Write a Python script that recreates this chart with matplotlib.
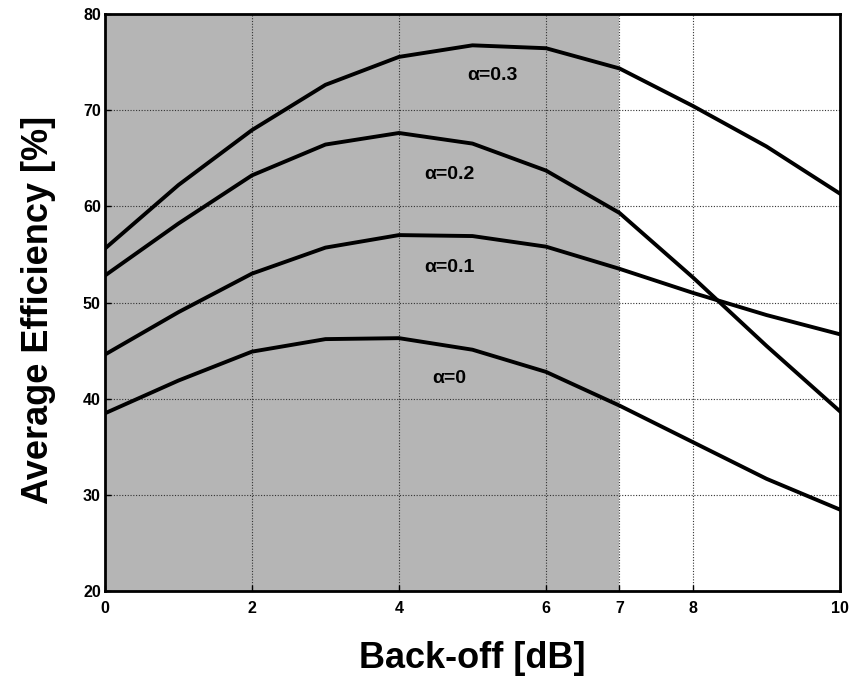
import numpy as np
import matplotlib.pyplot as plt

plt.rcParams['font.family'] = ['Liberation Sans', 'DejaVu Sans']

# back-off in dB
backoff = [0, 1, 2, 3, 4, 5, 6, 7, 8, 9, 10]

# average efficiency [%] for each alpha
eff_a0 = [38.5, 41.9, 44.9, 46.2, 46.3, 45.1, 42.8, 39.3, 35.5, 31.7, 28.5]
eff_a01 = [44.6, 49.0, 53.0, 55.7, 57.0, 56.9, 55.8, 53.5, 51.0, 48.7, 46.7]
eff_a02 = [52.8, 58.2, 63.2, 66.4, 67.6, 66.5, 63.7, 59.3, 52.6, 45.5, 38.7]
eff_a03 = [55.6, 62.2, 67.9, 72.6, 75.5, 76.7, 76.4, 74.3, 70.4, 66.2, 61.3]

labels = ['\u03b1=0', '\u03b1=0.1', '\u03b1=0.2', '\u03b1=0.3']
label_pos = [(4.68, 42.1), (4.68, 53.6), (4.68, 63.3), (5.27, 73.6)]

fig = plt.figure(figsize=(8.52, 6.77), dpi=100)
ax = fig.add_axes([0.1232, 0.1263, 0.8627, 0.8537])

# shaded back-off region
ax.axvspan(0, 7, color='#b5b5b5', zorder=0, lw=0)

for y in [eff_a0, eff_a01, eff_a02, eff_a03]:
    ax.plot(backoff, y, color='black', lw=2.8, zorder=3, solid_joinstyle='round')

for txt, (x, y) in zip(labels, label_pos):
    ax.text(x, y, txt, ha='center', va='center', fontsize=14, fontweight='bold', zorder=4)

ax.set_xlim(0, 10)
ax.set_ylim(20, 80)
ax.set_xticks([0, 2, 4, 6, 7, 8, 10])
ax.set_yticks(range(20, 81, 10))
ax.tick_params(direction='in', length=4, width=1, labelsize=11.5)
ax.tick_params(axis='x', pad=7)
ax.tick_params(axis='y', pad=3)
for lab in ax.get_xticklabels() + ax.get_yticklabels():
    lab.set_fontweight('bold')

ax.grid(True, color='#333333', linestyle=(0, (1, 1.5)), linewidth=0.8, zorder=1)
ax.set_axisbelow(True)
for sp in ax.spines.values():
    sp.set_linewidth(2)

ax.set_xlabel('Back-off [dB]', fontsize=26, fontweight='bold', labelpad=18)
ax.set_ylabel('Average Efficiency [%]', fontsize=26, fontweight='bold', labelpad=16)
ax.yaxis.set_label_coords(-0.066, 0.488)

fig.savefig('out.png', dpi=100)
